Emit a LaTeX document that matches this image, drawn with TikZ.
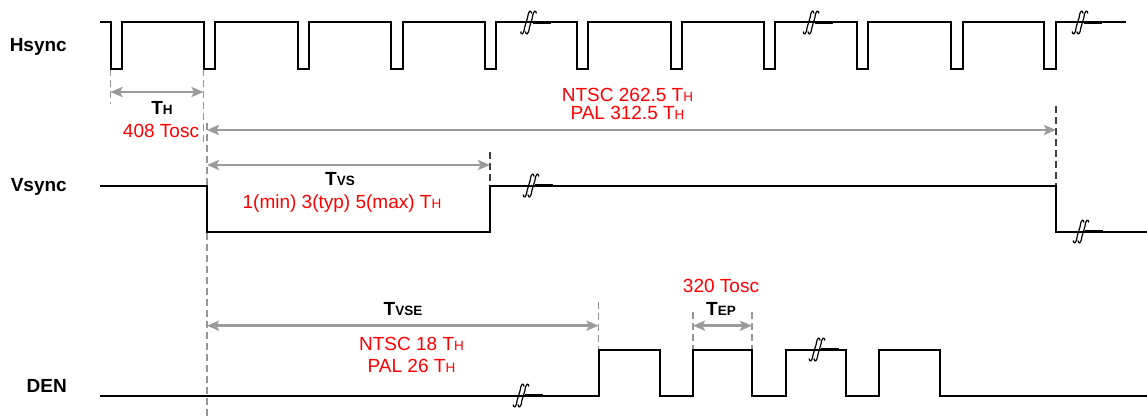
\documentclass[tikz,border=0pt]{standalone}
\usepackage{fontspec}
\setmainfont{Liberation Sans}
\usetikzlibrary{arrows.meta}
\definecolor{agray}{RGB}{155,155,155}
\definecolor{dgray}{RGB}{150,150,150}
\newcommand{\ssub}[1]{{\fontsize{13.5}{14}\selectfont #1}}
\tikzset{
  brk/.pic={
    \draw[line width=2.4pt] (4,0) -- (22,0);
    \foreach \dx in {-2.4,2.4} {
      \draw[line width=1.2pt, shift={(\dx,0)}] (-5.5,9) .. controls (-5,12.8) and (-2.5,12.8) .. (-1.5,5) -- (1.5,-5) .. controls (2.5,-12.8) and (5,-12.8) .. (5.5,-9);
    }
  }
}
\begin{document}
\begin{tikzpicture}[x=1pt,y=-1pt,
  sig/.style={line width=2pt, black, line join=miter},
  dim/.style={line width=2.5pt, agray, {Stealth[length=12pt,width=10pt,inset=2.5pt]}-{Stealth[length=12pt,width=10pt,inset=2.5pt]}},
  guide/.style={line width=1.3pt, dgray, dash pattern=on 7pt off 4pt},
  guidek/.style={line width=1.3pt, black!75, dash pattern=on 7pt off 4pt},
  lbl/.style={font=\fontsize{19}{22}\selectfont\bfseries, anchor=base east, inner sep=0pt},
  rtxt/.style={font=\fontsize{19}{22}\selectfont, text=red, anchor=base, inner sep=0pt},
  btxt/.style={font=\fontsize{19}{22}\selectfont\bfseries, anchor=base, inner sep=0pt}
]
\fill[white] (0,0) rectangle (1147,417);
\useasboundingbox (0,0) rectangle (1147,417);

% signal labels
\node[lbl] (hs) at (67,52) {Hsync};
\node[lbl] (vs) at (67,191.7) {Vsync};
\node[lbl] (den) at (67,392.3) {DEN};

% guide lines
\coordinate (g1a) at (110.5,69);  \coordinate (g1b) at (110.5,104);
\coordinate (g2a) at (203.5,69);  \coordinate (g2b) at (203.5,142);
\coordinate (g3a) at (207,123);   \coordinate (g3b) at (207,417);
\coordinate (g4a) at (490,152);   \coordinate (g4b) at (490,185.5);
\coordinate (g5a) at (1056,106);  \coordinate (g5b) at (1056,185.5);
\coordinate (g6a) at (598.5,302); \coordinate (g6b) at (598.5,349.5);
\coordinate (g7a) at (693,312);   \coordinate (g7b) at (693,349.5);
\coordinate (g8a) at (752,312);   \coordinate (g8b) at (752,349.5);
\draw[guide] (g1a) -- (g1b);
\draw[guide] (g2a) -- (g2b);
\draw[guide] (g3a) -- (g3b);
\draw[guidek] (g4a) -- (g4b);
\draw[guidek] (g5a) -- (g5b);
\draw[guide] (g6a) -- (g6b);
\draw[guide] (g7a) -- (g7b);
\draw[guide] (g8a) -- (g8b);

% waveforms
\draw[sig] (100,22.5) foreach \f/\r in {110.5/122, 203.5/215.3, 297.5/309, 391/402.5, 484.5/496, 576.5/588, 670.5/682, 763.5/775, 856.5/868, 951/962.5, 1044/1055.5} { -- (\f,22.5) -- (\f,69) -- (\r,69) -- (\r,22.5) } -- (1126,22.5);
\draw[sig] (100,185.5) -- (207,185.5) -- (207,231.5) -- (490,231.5) -- (490,185.5) -- (1056,185.5) -- (1056,231.5) -- (1147,231.5);
\draw[sig] (100,395.5) -- (599,395.5) -- (599,349.5) -- (660,349.5) -- (660,395.5) -- (693,395.5) -- (693,349.5) -- (752,349.5) -- (752,395.5) -- (785.5,395.5) -- (785.5,349.5) -- (846,349.5) -- (846,395.5) -- (879,395.5) -- (879,349.5) -- (939.5,349.5) -- (939.5,395.5) -- (1147,395.5);

% break marks
\pic at (528.5,22.5) {brk};
\pic at (811,22.5) {brk};
\pic at (1080,22.5) {brk};
\pic at (531,185.5) {brk};
\pic at (1081,231.5) {brk};
\pic at (521,395.5) {brk};
\pic at (817,349.5) {brk};

% dimension arrows
\coordinate (thl) at (110.5,92); \coordinate (thr) at (203.5,92);
\draw[dim] (thl) -- (thr);
\coordinate (fl) at (207,130); \coordinate (fr) at (1056,130);
\draw[dim] (fl) -- (fr);
\coordinate (tvl) at (207,165); \coordinate (tvr) at (490,165);
\draw[dim] (tvl) -- (tvr);
\coordinate (sel) at (207,325.7); \coordinate (ser) at (598.5,325.7);
\draw[dim] (sel) -- (ser);
\coordinate (epl) at (693,325.7); \coordinate (epr) at (752,325.7);
\draw[dim] (epl) -- (epr);

% texts
\node[btxt] (th) at (162,114) {T\ssub{H}};
\node[rtxt] (tosc) at (161,137.3) {408 Tosc};
\node[rtxt] (ntsc) at (627.5,102) {NTSC 262.5 T\ssub{H}};
\node[rtxt] (pal) at (627.5,119.5) {PAL 312.5 T\ssub{H}};
\node[btxt] (tvs) at (340,185) {T\ssub{VS}};
\node[rtxt] (tvsv) at (342,208.5) {1(min) 3(typ) 5(max) T\ssub{H}};
\node[btxt] (tvse) at (403,315) {T\ssub{VSE}};
\node[rtxt] (n18) at (411.5,350) {NTSC 18 T\ssub{H}};
\node[rtxt] (p26) at (411.5,372.7) {PAL 26 T\ssub{H}};
\node[btxt] (tep) at (721,315) {T\ssub{EP}};
\node[rtxt] (t320) at (721,292.3) {320 Tosc};
\end{tikzpicture}
\end{document}
